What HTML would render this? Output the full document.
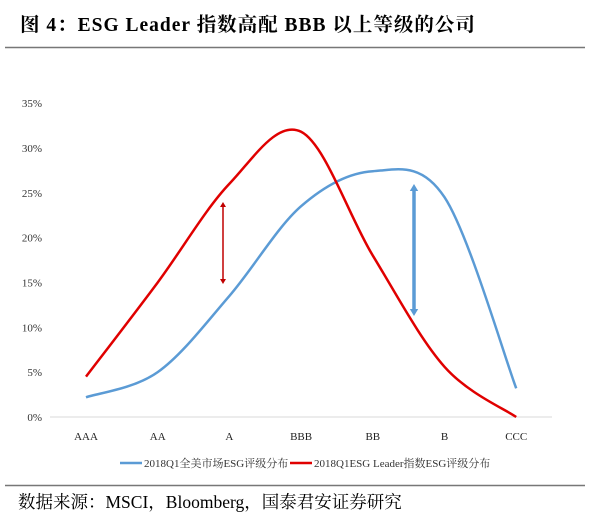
<!DOCTYPE html>
<html><head><meta charset="utf-8"><style>
body{margin:0;width:600px;height:522px;background:#fff;overflow:hidden;font-family:"Liberation Serif","Noto Serif CJK SC",serif}
</style></head><body>
<svg width="600" height="522" xmlns="http://www.w3.org/2000/svg">
<text x="20" y="31" font-size="19.5" font-weight="bold" letter-spacing="1" font-family="Liberation Serif,Noto Serif CJK SC,serif">图 4：ESG Leader 指数高配 BBB 以上等级的公司</text>
<line x1="5" y1="47.5" x2="585" y2="47.5" stroke="#777" stroke-width="1.5"/>
<line x1="5" y1="485.5" x2="585" y2="485.5" stroke="#777" stroke-width="1.5"/>
<text x="18" y="508" font-size="17.5" font-family="Liberation Serif,Noto Serif CJK SC,serif">数据来源：MSCI，Bloomberg，国泰君安证券研究</text>
<g id="plot"></g>
</svg>
<script>
const categories=["AAA","AA","A","BBB","BB","B","CCC"];
const yTicks=[0,5,10,15,20,25,30,35];
const marketSeries=[2.2,5.0,13.5,23.5,27.4,24.5,3.2];
const leaderSeries=[4.5,15.0,26.0,31.8,18.0,5.6,0.0];
const seriesNames=["2018Q1全美市场ESG评级分布","2018Q1ESG Leader指数ESG评级分布"];
const NS="http://www.w3.org/2000/svg";
const g=document.getElementById('plot');
const X0=86,DX=71.7,Y0=417,PX=8.97;
const xs=i=>X0+i*DX, ys=v=>Y0-v*PX;
function mk(t,a){const e=document.createElementNS(NS,t);for(const k in a)e.setAttribute(k,a[k]);g.appendChild(e);return e;}
let ax=mk('line',{x1:50,y1:Y0,x2:552,y2:Y0,stroke:'#d9d9d9'});


yTicks.forEach(v=>{const t=mk('text',{x:42,y:ys(v)+4,'font-size':11,'text-anchor':'end',fill:'#333'});t.textContent=v+'%';

});
categories.forEach((c,i)=>{const t=mk('text',{x:xs(i),y:440,'font-size':11,'text-anchor':'middle',fill:'#222'});t.textContent=c;

});
function path(vals){const p=vals.map((v,i)=>[xs(i),ys(v)]);let d='M'+p[0][0]+','+p[0][1];
for(let i=0;i<p.length-1;i++){const a=p[i-1]||p[i],b=p[i],c=p[i+1],e=p[i+2]||c;
d+=` C${b[0]+(c[0]-a[0])/6},${b[1]+(c[1]-a[1])/6} ${c[0]-(e[0]-b[0])/6},${c[1]-(e[1]-b[1])/6} ${c[0]},${c[1]}`;}return d;}
let l1=mk('path',{d:path(marketSeries),fill:'none',stroke:'#5b9bd5','stroke-width':2.5});


let l2=mk('path',{d:path(leaderSeries),fill:'none',stroke:'#e00000','stroke-width':2.5});


function arrow(x,y1,y2,col,w,h){mk('line',{x1:x,y1:y1+h,x2:x,y2:y2-h,stroke:col,'stroke-width':w});
mk('polygon',{points:`${x},${y1} ${x-h*0.6},${y1+h} ${x+h*0.6},${y1+h}`,fill:col});
mk('polygon',{points:`${x},${y2} ${x-h*0.6},${y2-h} ${x+h*0.6},${y2-h}`,fill:col});}
arrow(223,202,284,'#c00000',1.5,5);
arrow(414,184,316,'#5b9bd5',3.5,7);
[['#5b9bd5',120,seriesNames[0],'legend-market'],['#e00000',290,seriesNames[1],'legend-leader']].forEach(([c,x,n,nm])=>{
let ln=mk('line',{x1:x,y1:463,x2:x+22,y2:463,stroke:c,'stroke-width':2.5});
let t=mk('text',{x:x+24,y:467,'font-size':11,fill:'#333','font-family':'Liberation Serif,Noto Serif CJK SC,serif'});t.textContent=n;

});
</script>
</body></html>
